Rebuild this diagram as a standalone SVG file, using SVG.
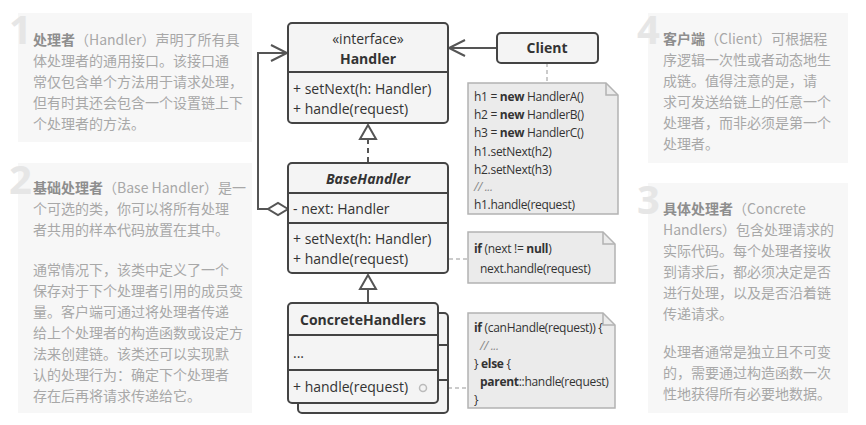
<svg xmlns="http://www.w3.org/2000/svg" width="866" height="425" viewBox="0 0 866 425">
<style>
.bg{fill:#ffffff}
.panel{fill:#f7f7f7}
.num{font-family:"Open Sans","Liberation Sans",sans-serif;font-weight:bold;font-size:40px;fill:#e6e6e6}
.desc{font-family:"Noto Sans CJK SC","Noto Sans",sans-serif;font-size:14px;fill:#a8a8a8}
.b{font-weight:bold;fill:#8e8e8e}
.box{fill:#f4f4f4;stroke:#444;stroke-width:2}
.div{stroke:#444;stroke-width:2}
.t{font-family:"Open Sans","Liberation Sans",sans-serif;font-size:14px;fill:#333}
.tb{font-weight:bold}
.ti{font-weight:bold;font-style:italic}
.note{fill:#ebebeb;stroke:#b3b3b3;stroke-width:1.5}
.code{font-family:"Open Sans","Liberation Sans",sans-serif;font-size:12px;letter-spacing:-0.3px;fill:#333}
.conn{stroke:#555;stroke-width:2;fill:none}
.dash{stroke:#bbb;stroke-width:1.5;stroke-dasharray:4 3;fill:none}
.dot{stroke:#bbb;stroke-width:1.5;fill:none}
</style>
<rect class="bg" x="0" y="0" width="866" height="425"/>

<g id="panel1">
<rect class="panel" x="18" y="13" width="234" height="129"/>
<text class="num" x="9" y="44">1</text>
<text class="desc"><tspan x="33" y="45"><tspan class="b">处理者</tspan>（Handler）声明了所有具</tspan><tspan x="33" y="66">体处理者的通用接口。该接口通</tspan><tspan x="33" y="87">常仅包含单个方法用于请求处理，</tspan><tspan x="33" y="108">但有时其还会包含一个设置链上下</tspan><tspan x="33" y="129">个处理者的方法。</tspan></text>
</g>

<g id="panel2">
<rect class="panel" x="18" y="163" width="234" height="250"/>
<text class="num" x="9" y="194">2</text>
<text class="desc"><tspan x="33" y="193"><tspan class="b">基础处理者</tspan>（Base Handler）是一</tspan><tspan x="33" y="214">个可选的类，你可以将所有处理</tspan><tspan x="33" y="235">者共用的样本代码放置在其中。</tspan><tspan x="33" y="275">通常情况下，该类中定义了一个</tspan><tspan x="33" y="296">保存对于下个处理者引用的成员变</tspan><tspan x="33" y="317">量。客户端可通过将处理者传递</tspan><tspan x="33" y="338">给上个处理者的构造函数或设定方</tspan><tspan x="33" y="359">法来创建链。该类还可以实现默</tspan><tspan x="33" y="380">认的处理行为：确定下个处理者</tspan><tspan x="33" y="401">存在后再将请求传递给它。</tspan></text>
</g>

<g id="panel4">
<rect class="panel" x="648" y="13" width="200" height="150"/>
<text class="num" x="637" y="44">4</text>
<text class="desc"><tspan x="663" y="44"><tspan class="b">客户端</tspan>（Client）可根据程</tspan><tspan x="663" y="65">序逻辑一次性或者动态地生</tspan><tspan x="663" y="86">成链。值得注意的是，请</tspan><tspan x="663" y="107">求可发送给链上的任意一个</tspan><tspan x="663" y="128">处理者，而非必须是第一个</tspan><tspan x="663" y="149">处理者。</tspan></text>
</g>

<g id="panel3">
<rect class="panel" x="648" y="183" width="200" height="230"/>
<text class="num" x="637" y="214">3</text>
<text class="desc"><tspan x="663" y="214"><tspan class="b">具体处理者</tspan>（Concrete</tspan><tspan x="663" y="235">Handlers）包含处理请求的</tspan><tspan x="663" y="256">实际代码。每个处理者接收</tspan><tspan x="663" y="277">到请求后，都必须决定是否</tspan><tspan x="663" y="298">进行处理，以及是否沿着链</tspan><tspan x="663" y="319">传递请求。</tspan><tspan x="663" y="357">处理者通常是独立且不可变</tspan><tspan x="663" y="378">的，需要通过构造函数一次</tspan><tspan x="663" y="399">性地获得所有必要地数据。</tspan></text>
</g>

<g id="connectors">
<line class="conn" x1="497" y1="48" x2="450" y2="48"/>
<polyline class="conn" points="465,40 449,48 465,56"/>
<line class="dash" x1="547" y1="63" x2="547" y2="83"/>
<polyline class="conn" points="268,209 258,209 258,53 286,53"/>
<polyline class="conn" points="271,45 287,53 271,61"/>
<polygon class="conn" points="288,209 278,203 268,209 278,215" style="fill:#fff"/>
<line class="conn" x1="368" y1="139" x2="368" y2="163" stroke-dasharray="5 4"/>
<polygon class="conn" points="368,125 360,139 376,139"/>
<line class="conn" x1="368" y1="289" x2="368" y2="303"/>
<polygon class="conn" points="368,275 360,289 376,289"/>
<circle class="dot" cx="424" cy="259" r="3.5"/>
<line class="dash" x1="428" y1="259" x2="468" y2="259"/>
<line class="dash" x1="427" y1="388" x2="468" y2="388"/>
</g>

<g id="handler">
<rect class="box" x="288" y="23" width="160" height="100" rx="4"/>
<line class="div" x1="288" y1="72" x2="448" y2="72"/>
<text class="t" x="368" y="44" text-anchor="middle">«interface»</text>
<text class="t tb" x="368" y="64" text-anchor="middle">Handler</text>
<text class="t" x="293" y="94">+ setNext(h: Handler)</text>
<text class="t" x="293" y="114">+ handle(request)</text>
</g>

<g id="client">
<rect class="box" x="497" y="33" width="101" height="30" rx="4"/>
<text class="t tb" x="547" y="53" text-anchor="middle">Client</text>
</g>

<g id="client-note">
<path class="note" d="M468,83 H606 L618,95 V214 H468 Z"/>
<path class="note" d="M606,83 V95 H618" style="fill:none"/>
<text class="code"><tspan x="474" y="101">h1 = <tspan font-weight="bold">new</tspan> HandlerA()</tspan><tspan x="474" y="119">h2 = <tspan font-weight="bold">new</tspan> HandlerB()</tspan><tspan x="474" y="137">h3 = <tspan font-weight="bold">new</tspan> HandlerC()</tspan><tspan x="474" y="156">h1.setNext(h2)</tspan><tspan x="474" y="174">h2.setNext(h3)</tspan><tspan x="474" y="191" font-style="italic" fill="#888">// ...</tspan><tspan x="474" y="209">h1.handle(request)</tspan></text>
</g>

<g id="basehandler">
<rect class="box" x="288" y="163" width="160" height="110" rx="4"/>
<line class="div" x1="288" y1="193" x2="448" y2="193"/>
<line class="div" x1="288" y1="223" x2="448" y2="223"/>
<text class="t ti" x="368" y="184" text-anchor="middle">BaseHandler</text>
<text class="t" x="293" y="214">- next: Handler</text>
<text class="t" x="293" y="244">+ setNext(h: Handler)</text>
<text class="t" x="293" y="264">+ handle(request)</text>
</g>

<g id="base-note">
<path class="note" d="M468,232 H603 L615,244 V283 H468 Z"/>
<path class="note" d="M603,232 V244 H615" style="fill:none"/>
<text class="code"><tspan x="474" y="253"><tspan font-weight="bold">if</tspan> (next != <tspan font-weight="bold">null</tspan>)</tspan><tspan x="480" y="273">next.handle(request)</tspan></text>
</g>

<g id="concretehandlers">
<rect class="box" x="298" y="313" width="150" height="100" rx="4"/>
<line class="div" x1="298" y1="345" x2="448" y2="345"/>
<line class="div" x1="298" y1="380" x2="448" y2="380"/>
<rect class="box" x="288" y="303" width="150" height="100" rx="4"/>
<line class="div" x1="288" y1="335" x2="438" y2="335"/>
<line class="div" x1="288" y1="370" x2="438" y2="370"/>
<text class="t tb" x="363" y="325" text-anchor="middle">ConcreteHandlers</text>
<text class="t" x="293" y="358">...</text>
<text class="t" x="293" y="392">+ handle(request)</text>
<circle class="dot" cx="423" cy="388" r="3.5"/>
</g>

<g id="concrete-note">
<path class="note" d="M468,313 H603 L615,325 V408 H468 Z"/>
<path class="note" d="M603,313 V325 H615" style="fill:none"/>
<text class="code"><tspan x="474" y="332"><tspan font-weight="bold">if</tspan> (canHandle(request)) {</tspan><tspan x="480" y="350" font-style="italic" fill="#888">// ...</tspan><tspan x="474" y="368">} <tspan font-weight="bold">else</tspan> {</tspan><tspan x="480" y="386"><tspan font-weight="bold">parent</tspan>::handle(request)</tspan><tspan x="474" y="404">}</tspan></text>
</g>
</svg>
